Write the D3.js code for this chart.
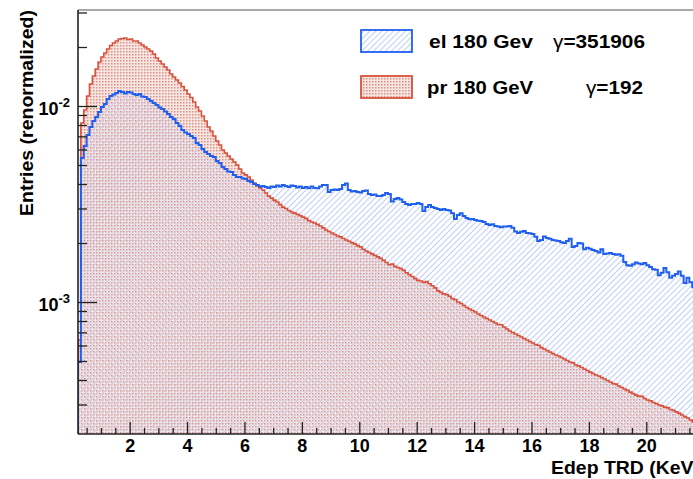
<!DOCTYPE html>
<html>
<head>
<meta charset="utf-8">
<script src="https://cdn.jsdelivr.net/npm/d3@7"></script>
<style>
  body { margin: 0; background: #fff; }
  svg { display: block; }
  text { font-family: "Liberation Sans", Arial, Helvetica, sans-serif; font-weight: bold; fill: #000; }
</style>
</head>
<body>
<div id="chart"></div>
<script>
// histogram binning (KeV)
const binStart = 0.2;
const binWidth = 0.1;

// el 180 GeV, renormalized entries per bin
const el180 = [
  0.000494, 0.00543, 0.00625, 0.00711, 0.00781, 0.00839, 0.00879, 0.00932, 0.00988, 0.01024,
  0.01086, 0.01125, 0.01145, 0.01165, 0.01192, 0.01179, 0.01158, 0.01179, 0.01172, 0.01151,
  0.01138, 0.01151, 0.01118, 0.01111, 0.01086, 0.01060, 0.01036, 0.01012, 0.00982, 0.00965,
  0.00937, 0.00910, 0.00879, 0.00859, 0.00819, 0.00791, 0.00754, 0.00732, 0.00720, 0.00703,
  0.00687, 0.00648, 0.00632, 0.00603, 0.00582, 0.00569, 0.00556, 0.00549, 0.00524, 0.00512,
  0.00488, 0.00477, 0.00463, 0.00460, 0.00445, 0.00434, 0.00434, 0.00427, 0.00424, 0.00414,
  0.00410, 0.00400, 0.00395, 0.00388, 0.00391, 0.00386, 0.00382, 0.00388, 0.00386, 0.00393,
  0.00388, 0.00395, 0.00391, 0.00386, 0.00393, 0.00391, 0.00384, 0.00388, 0.00382, 0.00386,
  0.00380, 0.00388, 0.00382, 0.00380, 0.00388, 0.00395, 0.00395, 0.00364, 0.00373, 0.00375,
  0.00373, 0.00377, 0.00395, 0.00402, 0.00373, 0.00366, 0.00368, 0.00364, 0.00362, 0.00368,
  0.00371, 0.00356, 0.00352, 0.00354, 0.00347, 0.00347, 0.00352, 0.00360, 0.00356, 0.00326,
  0.00335, 0.00339, 0.00333, 0.00324, 0.00316, 0.00313, 0.00316, 0.00316, 0.00320, 0.00316,
  0.00291, 0.00305, 0.00313, 0.00305, 0.00302, 0.00298, 0.00295, 0.00298, 0.00295, 0.00293,
  0.00284, 0.00265, 0.00278, 0.00284, 0.00275, 0.00268, 0.00264, 0.00265, 0.00262, 0.00260,
  0.00259, 0.00256, 0.00250, 0.00247, 0.00249, 0.00244, 0.00243, 0.00241, 0.00243, 0.00243,
  0.00244, 0.00239, 0.00229, 0.00225, 0.00228, 0.00230, 0.00225, 0.00224, 0.00222, 0.00215,
  0.00205, 0.00207, 0.00216, 0.00212, 0.00210, 0.00207, 0.00206, 0.00205, 0.00202, 0.00200,
  0.00205, 0.00210, 0.00191, 0.00193, 0.00200, 0.00199, 0.00186, 0.00189, 0.00187, 0.00184,
  0.00182, 0.00179, 0.00186, 0.00176, 0.00177, 0.00178, 0.00176, 0.00174, 0.00175, 0.00172,
  0.00160, 0.00154, 0.00153, 0.00156, 0.00159, 0.00157, 0.00156, 0.00158, 0.00154, 0.00151,
  0.00147, 0.00146, 0.00137, 0.00141, 0.00149, 0.00142, 0.00133, 0.00136, 0.00139, 0.00143,
  0.00136, 0.00125, 0.00133, 0.00126, 0.00119, 0.00123, 0.00120, 0.00117
];

// pr 180 GeV, renormalized entries per bin
const pr180 = [
  0.00064, 0.00819, 0.00954, 0.01125, 0.01295, 0.01422, 0.01545, 0.01677, 0.01778, 0.01864,
  0.01953, 0.02036, 0.02097, 0.02147, 0.02197, 0.02210, 0.02223, 0.02185, 0.02197, 0.02147,
  0.02147, 0.02097, 0.02048, 0.02000, 0.01953, 0.01908, 0.01842, 0.01758, 0.01697, 0.01638,
  0.01581, 0.01526, 0.01456, 0.01406, 0.01357, 0.01310, 0.01257, 0.01207, 0.01151, 0.01105,
  0.01048, 0.00988, 0.00943, 0.00889, 0.00839, 0.00781, 0.00746, 0.00703, 0.00663, 0.00632,
  0.00596, 0.00576, 0.00556, 0.00537, 0.00518, 0.00500, 0.00477, 0.00455, 0.00445, 0.00434,
  0.00419, 0.00405, 0.00391, 0.00382, 0.00373, 0.00360, 0.00347, 0.00339, 0.00331, 0.00324,
  0.00314, 0.00305, 0.00300, 0.00293, 0.00288, 0.00284, 0.00280, 0.00276, 0.00271, 0.00267,
  0.00260, 0.00256, 0.00253, 0.00249, 0.00244, 0.00239, 0.00233, 0.00229, 0.00225, 0.00221,
  0.00217, 0.00215, 0.00211, 0.00207, 0.00204, 0.00201, 0.00198, 0.00194, 0.00191, 0.00186,
  0.00182, 0.00179, 0.00176, 0.00173, 0.00170, 0.00167, 0.00163, 0.00159, 0.00155, 0.00156,
  0.00152, 0.00150, 0.00148, 0.00145, 0.00141, 0.00138, 0.00135, 0.00132, 0.00129, 0.00128,
  0.00126, 0.00127, 0.00124, 0.00121, 0.00118, 0.00114, 0.00112, 0.00110, 0.00109, 0.00107,
  0.00104, 0.00103, 0.00100, 0.000982, 0.000960, 0.000937, 0.000921, 0.000905, 0.000889, 0.000869,
  0.000853, 0.000838, 0.000824, 0.000809, 0.000795, 0.000781, 0.000768, 0.000765, 0.000746, 0.000728,
  0.000711, 0.000699, 0.000687, 0.000675, 0.000663, 0.000651, 0.000640, 0.000629, 0.000618, 0.000607,
  0.000602, 0.000586, 0.000576, 0.000566, 0.000556, 0.000546, 0.000537, 0.000530, 0.000521, 0.000512,
  0.000503, 0.000494, 0.000490, 0.000477, 0.000472, 0.000463, 0.000455, 0.000447, 0.000439, 0.000432,
  0.000424, 0.000419, 0.000412, 0.000405, 0.000398, 0.000391, 0.000384, 0.000381, 0.000373, 0.000366,
  0.000360, 0.000354, 0.000347, 0.000341, 0.000335, 0.000331, 0.000330, 0.000322, 0.000316, 0.000313,
  0.000307, 0.000303, 0.000298, 0.000295, 0.000291, 0.000289, 0.000283, 0.000280, 0.000275, 0.000271,
  0.000265, 0.000260, 0.000256, 0.000250, 0.000244, 0.000240, 0.000236, 0.000232
];

const xMajorTicks = [2, 4, 6, 8, 10, 12, 14, 16, 18, 20, 22];
const yDecades = [1e-4, 1e-3, 1e-2];
const yMajorLabels = [["10", "-3"], ["10", "-2"]];
const legendNames = ["el 180 Gev", "pr 180 GeV"];
const legendGammas = ["=351906", "=192"];

const W = 693, H = 479;
const x = d3.scaleLinear().domain([0.2, 22]).range([78, 703.7]);
const y = d3.scaleLog().domain([2.121e-4, 0.03089]).range([434, 10]);
const [x0, x1] = x.range();
const [yB, yT] = y.range();

const svg = d3.select("#chart").append("svg")
    .attr("width", W)
    .attr("height", H);

const defs = svg.append("defs");

// ROOT-like dotted fill for protons
const dots = defs.append("pattern")
    .attr("id", "dots")
    .attr("patternUnits", "userSpaceOnUse")
    .attr("width", 3).attr("height", 3);
dots.append("rect").attr("width", 3).attr("height", 3).attr("fill", "#f7e5e2");
dots.append("rect").attr("width", 1.5).attr("height", 1.5).attr("fill", "#e09082");

// diagonal hatch for electrons
const hatch = defs.append("pattern")
    .attr("id", "hatch")
    .attr("patternUnits", "userSpaceOnUse")
    .attr("width", 4.2).attr("height", 4.2)
    .attr("patternTransform", "rotate(45)");
hatch.append("line")
    .attr("x1", 2.1).attr("y1", 0).attr("x2", 2.1).attr("y2", 4.2)
    .attr("stroke", "#c0cff3").attr("stroke-width", 1.1);

defs.append("clipPath").attr("id", "plotclip")
  .append("rect")
    .attr("x", x0).attr("y", yT)
    .attr("width", x1 - x0).attr("height", yB - yT);

// step outline of a histogram
function stepPath(vals) {
    const p = d3.path();
    p.moveTo(x(binStart), yB);
    vals.forEach((v, i) => {
        const lo = binStart + i * binWidth;
        p.lineTo(x(lo), y(v));
        p.lineTo(x(lo + binWidth), y(v));
    });
    p.lineTo(x(binStart + vals.length * binWidth), yB);
    return p.toString();
}

const plot = svg.append("g").attr("clip-path", "url(#plotclip)");

plot.append("path").attr("d", stepPath(pr180) + "Z").attr("fill", "url(#dots)");
plot.append("path").attr("d", stepPath(el180) + "Z").attr("fill", "url(#hatch)");
plot.append("path").attr("d", stepPath(pr180))
    .attr("fill", "none").attr("stroke", "#d9513c").attr("stroke-width", 1.6);
plot.append("path").attr("d", stepPath(el180))
    .attr("fill", "none").attr("stroke", "#1f5ff0").attr("stroke-width", 2);

// axes
const xMinor = d3.range(0.5, 22.01, 0.5).filter(v => xMajorTicks.indexOf(v) < 0);
const yMinor = [];
yDecades.forEach(d => { for (let k = 2; k <= 9; k++) yMinor.push(k * d); });
const yMinorIn = yMinor.filter(v => v > y.domain()[0] && v < y.domain()[1]);

function styleAxis(g) {
    g.select(".domain").remove();
    g.selectAll(".tick line").attr("stroke", "#222").attr("stroke-width", 1.3);
}

svg.append("g")
    .attr("transform", `translate(0,${yB})`)
    .call(d3.axisBottom(x).tickValues(xMajorTicks).tickSize(-12).tickPadding(5))
    .call(styleAxis)
    .call(g => g.selectAll(".tick text")
        .attr("font-size", 18).attr("font-weight", "bold")
        .attr("font-family", '"Liberation Sans", Arial, sans-serif').attr("fill", "#000"));

svg.append("g")
    .attr("transform", `translate(0,${yB})`)
    .call(d3.axisBottom(x).tickValues(xMinor).tickSize(-6).tickFormat(""))
    .call(styleAxis);

svg.append("g")
    .attr("transform", `translate(${x0},0)`)
    .call(d3.axisLeft(y).tickValues([1e-3, 1e-2]).tickSize(-19).tickFormat(""))
    .call(styleAxis);

svg.append("g")
    .attr("transform", `translate(${x0},0)`)
    .call(d3.axisLeft(y).tickValues(yMinorIn).tickSize(-9).tickFormat(""))
    .call(styleAxis);

// y labels 10^-n
[1e-3, 1e-2].forEach((v, i) => {
    const t = svg.append("text")
        .attr("x", 70).attr("y", y(v) + 8.5)
        .attr("text-anchor", "end")
        .attr("font-size", 18);
    t.append("tspan").text(yMajorLabels[i][0]);
    t.append("tspan").attr("font-size", 13).attr("dy", -8).text(yMajorLabels[i][1]);
});

// frame
svg.append("line").attr("x1", x0).attr("x2", W).attr("y1", yT).attr("y2", yT)
    .attr("stroke", "#555").attr("stroke-width", 1.2);
svg.append("line").attr("x1", x0).attr("x2", x0).attr("y1", yT).attr("y2", yB)
    .attr("stroke", "#222").attr("stroke-width", 1.6);
svg.append("line").attr("x1", x0).attr("x2", W).attr("y1", yB).attr("y2", yB)
    .attr("stroke", "#222").attr("stroke-width", 1.6);

// titles
svg.append("text")
    .attr("transform", "translate(33,10) rotate(-90)")
    .attr("text-anchor", "end")
    .attr("font-size", 18)
    .attr("textLength", 206).attr("lengthAdjust", "spacingAndGlyphs")
    .text("Entries (renormalized)");

svg.append("text")
    .attr("x", 551).attr("y", 474)
    .attr("font-size", 18)
    .attr("textLength", 149).attr("lengthAdjust", "spacingAndGlyphs")
    .text("Edep TRD (KeV)");

// legend
const legend = [
    { name: legendNames[0], gamma: legendGammas[0], fill: "url(#hatch)", stroke: "#1f5ff0",
      by: 30, ty: 48, nx: 429, nl: 104, gx: 553, gl: 92 },
    { name: legendNames[1], gamma: legendGammas[1], fill: "url(#dots)", stroke: "#d9513c",
      by: 76, ty: 94, nx: 427, nl: 106, gx: 586, gl: 57 }
];
legend.forEach(d => {
    svg.append("rect")
        .attr("x", 361).attr("y", d.by).attr("width", 51).attr("height", 22)
        .attr("fill", d.fill).attr("stroke", d.stroke).attr("stroke-width", 1.8);
    svg.append("text")
        .attr("x", d.nx).attr("y", d.ty).attr("font-size", 18)
        .attr("textLength", d.nl).attr("lengthAdjust", "spacingAndGlyphs")
        .text(d.name);
    const g = svg.append("text")
        .attr("x", d.gx).attr("y", d.ty).attr("font-size", 18)
        .attr("textLength", d.gl).attr("lengthAdjust", "spacingAndGlyphs");
    g.append("tspan").attr("font-weight", "normal").text("\u03b3");
    g.append("tspan").text(d.gamma);
});
</script>
</body>
</html>
